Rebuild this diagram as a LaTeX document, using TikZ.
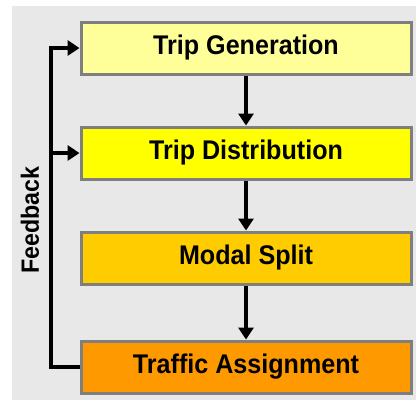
\documentclass[tikz,border=0pt]{standalone}
\usepackage{fontspec}
\setmainfont{Liberation Sans}
\usetikzlibrary{arrows.meta}
\definecolor{bggray}{HTML}{E8E8E8}
\definecolor{boxborder}{HTML}{7F7F7F}
\definecolor{genfill}{HTML}{FFFF99}
\definecolor{distfill}{HTML}{FFFF00}
\definecolor{modfill}{HTML}{FFCC00}
\definecolor{trafill}{HTML}{FF9900}
\newcommand{\boxlabel}[1]{\scalebox{0.93}[1]{\fontsize{27}{30}\selectfont\bfseries #1}}
\begin{document}
\begin{tikzpicture}[x=1pt,y=-1pt,
  stagebox/.style={draw=boxborder,line width=3pt,minimum width=330pt,minimum height=52pt,inner sep=0pt,anchor=center},
  flow/.style={line width=3.5pt,-{Triangle[length=12pt,width=15pt]}},
  fb/.style={line width=3.5pt}]
\useasboundingbox (0,0) rectangle (420,408);
\fill[white] (0,0) rectangle (420,408);
\fill[bggray] (12,6) rectangle (416,400);
\node[stagebox,fill=genfill] (gen) at (246,48) {\boxlabel{Trip Generation}};
\node[stagebox,fill=distfill] (dist) at (246,153) {\boxlabel{Trip Distribution}};
\node[stagebox,fill=modfill] (modal) at (246,258) {\boxlabel{Modal Split}};
\node[stagebox,fill=trafill] (traf) at (246,367) {\boxlabel{Traffic Assignment}};
\draw[flow] (gen.south) -- (dist.north);
\draw[flow] (dist.south) -- (modal.north);
\draw[flow] (modal.south) -- (traf.north);
\coordinate (fbbot) at (51,367);
\coordinate (fbtop) at (51,48);
\coordinate (fbmid) at (51,153);
\draw[fb] (traf.west) -- (fbbot) -- ([yshift=-1.75pt]fbtop);
\draw[flow] ([xshift=-1.75pt]fbtop) -- (gen.west);
\draw[flow] (fbmid) -- (dist.west);
\node[rotate=90] (fblabel) at (30,220) {\scalebox{0.93}[1]{\fontsize{25}{28}\selectfont\bfseries Feedback}};
\end{tikzpicture}
\end{document}
